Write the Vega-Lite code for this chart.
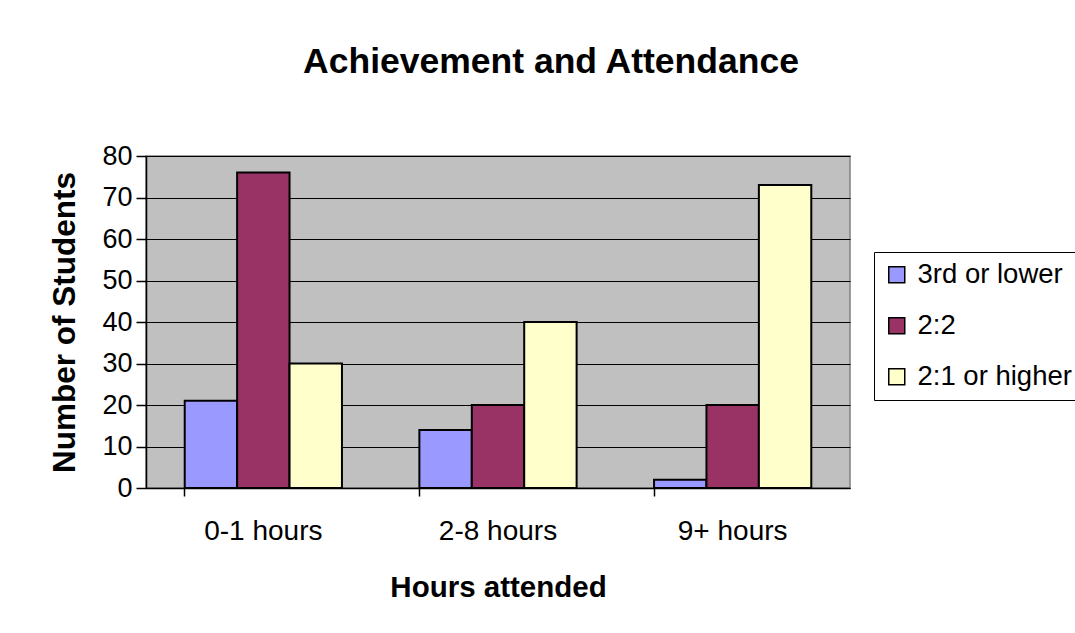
{
  "$schema": "https://vega.github.io/schema/vega-lite/v6.json",
  "width": 704,
  "height": 332,
  "autosize": "none",
  "padding": {"left": 146, "top": 156, "right": 225, "bottom": 145},
  "background": "white",
  "title": {
    "text": "Achievement and Attendance",
    "font": "Liberation Sans",
    "fontSize": 35.5,
    "fontWeight": "bold",
    "color": "black",
    "anchor": "middle",
    "dx": 53,
    "offset": 62
  },
  "data": {
    "values": [
      {"hours": "0-1 hours", "grade": "3rd or lower", "students": 21},
      {"hours": "0-1 hours", "grade": "2:2", "students": 76},
      {"hours": "0-1 hours", "grade": "2:1 or higher", "students": 30},
      {"hours": "2-8 hours", "grade": "3rd or lower", "students": 14},
      {"hours": "2-8 hours", "grade": "2:2", "students": 20},
      {"hours": "2-8 hours", "grade": "2:1 or higher", "students": 40},
      {"hours": "9+ hours", "grade": "3rd or lower", "students": 2},
      {"hours": "9+ hours", "grade": "2:2", "students": 20},
      {"hours": "9+ hours", "grade": "2:1 or higher", "students": 73}
    ]
  },
  "mark": {"type": "bar", "stroke": "black", "strokeWidth": 2},
  "encoding": {
    "x": {
      "field": "hours",
      "type": "nominal",
      "sort": ["0-1 hours", "2-8 hours", "9+ hours"],
      "scale": {"paddingInner": 0.33, "paddingOuter": 0.165},
      "axis": {
        "title": "Hours attended",
        "titleFont": "Liberation Sans",
        "titleFontSize": 29.5,
        "titleFontWeight": "bold",
        "titleColor": "black",
        "titlePadding": 28,
        "labelFont": "Liberation Sans",
        "labelFontSize": 28,
        "labelColor": "black",
        "labelAngle": 0,
        "labelPadding": 21,
        "domainColor": "black",
        "domainWidth": 1.5,
        "tickColor": "black",
        "tickWidth": 1.5,
        "tickSize": 8,
        "bandPosition": 0,
        "grid": false
      }
    },
    "xOffset": {
      "field": "grade",
      "sort": ["3rd or lower", "2:2", "2:1 or higher"],
      "scale": {"paddingInner": 0, "paddingOuter": 0}
    },
    "y": {
      "field": "students",
      "type": "quantitative",
      "scale": {"domain": [0, 80]},
      "axis": {
        "title": "Number of Students",
        "titleFont": "Liberation Sans",
        "titleFontSize": 31.5,
        "titleFontWeight": "bold",
        "titleColor": "black",
        "titlePadding": 20,
        "labelFont": "Liberation Sans",
        "labelFontSize": 27,
        "labelColor": "black",
        "labelPadding": 4,
        "values": [0, 10, 20, 30, 40, 50, 60, 70, 80],
        "domainColor": "black",
        "domainWidth": 1.5,
        "tickColor": "black",
        "tickWidth": 1.5,
        "tickSize": 10,
        "gridColor": "black",
        "gridOpacity": 1,
        "gridWidth": 1.2
      }
    },
    "color": {
      "field": "grade",
      "type": "nominal",
      "sort": ["3rd or lower", "2:2", "2:1 or higher"],
      "scale": {
        "domain": ["3rd or lower", "2:2", "2:1 or higher"],
        "range": ["#9999ff", "#993366", "#ffffcc"]
      },
      "legend": {
        "title": null,
        "orient": "none",
        "legendX": 728,
        "legendY": 96,
        "padding": 9,
        "strokeColor": "black",
        "fillColor": "white",
        "symbolType": "square",
        "symbolSize": 256,
        "symbolStrokeColor": "black",
        "symbolStrokeWidth": 1.5,
        "labelFont": "Liberation Sans",
        "labelFontSize": 27.5,
        "labelColor": "black",
        "labelOffset": 7,
        "rowPadding": 22
      }
    }
  },
  "config": {
    "view": {"fill": "#c0c0c0", "stroke": "#808080", "strokeWidth": 1.5}
  }
}
